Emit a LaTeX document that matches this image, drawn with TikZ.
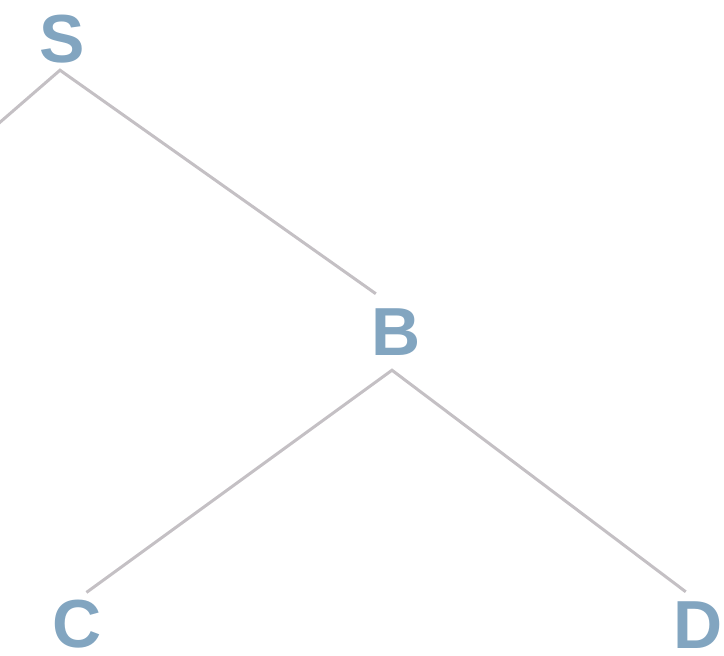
\documentclass[tikz,border=0pt]{standalone}
\usepackage{fontspec}
\usetikzlibrary{calc}
\setmainfont{Liberation Sans}
\definecolor{letter}{HTML}{82A5C0}
\definecolor{branch}{HTML}{C4C0C4}
\begin{document}
\begin{tikzpicture}[x=1pt,y=-1pt,
  lbl/.style={inner sep=0pt, anchor=base, text=letter, font=\fontsize{68}{68}\selectfont\bfseries, text depth=0pt},
  edge/.style={draw=branch, line width=3pt, line join=miter}]
\useasboundingbox (0,0) rectangle (724,656);
\node[lbl] (S) at (62,62) {S};
\node[lbl] (B) at (396,355) {B};
\node[lbl] (C) at (77,647) {C};
\node[lbl] (D) at (698,648) {D};
\coordinate (Sv) at ([shift={(-2,8)}]S.south);
\coordinate (Bv) at ([shift={(-4,15)}]B.south);
\coordinate (L) at (-2,124);
\draw[edge] (L) -- (Sv) -- ($(Sv)!0.94!(B.north)$);
\draw[edge] ($(Bv)!0.97!(C.north)$) -- (Bv) -- ($(Bv)!0.96!(D.north)$);
\end{tikzpicture}
\end{document}
